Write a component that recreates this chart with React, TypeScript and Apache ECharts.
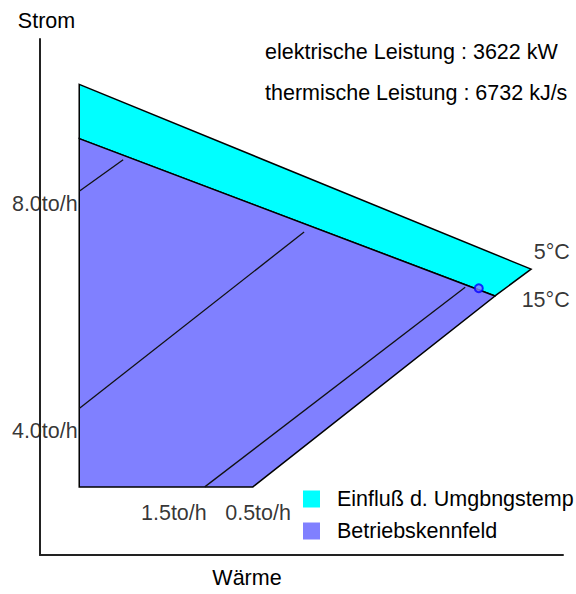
import React, { useEffect, useRef } from "react";
import * as echarts from "echarts";

// ---- data (relative units: Wärme 0..100, Strom 0..100) ----
const X_MAX = 100;
const Y_MAX = 100;

const ambientName = "Einfluß d. Umgbngstemp";
const fieldName = "Betriebskennfeld";

// polygon of ambient-temperature influence (5°C .. 15°C band)
const ambientPoly: number[][] = [
  [7.5, 91.2],
  [93.9, 55.4],
  [87.0, 50.2],
  [7.5, 80.7],
];

// operating field polygon
const fieldPoly: number[][] = [
  [7.5, 80.7],
  [87.0, 50.2],
  [40.7, 13.2],
  [7.5, 13.2],
];

// iso-lines of steam extraction
const isoLine1: number[][] = [
  [7.5, 70.5],
  [15.9, 76.6],
];
const isoLine2: number[][] = [
  [7.5, 28.4],
  [50.5, 62.6],
];
const isoLine3: number[][] = [
  [31.5, 13.2],
  [81.3, 51.9],
];

const operatingPoint: number[] = [83.9, 51.7];

// labels of the left iso-lines
const leftLabels = ["8.0to/h", "4.0to/h"];
const leftLabelPos: number[][] = [
  [7.3, 68.1],
  [7.3, 24.0],
];
// labels below the bottom edge
const bottomLabels = ["1.5to/h", "0.5to/h"];
const bottomLabelPos: number[][] = [
  [25.6, 8.1],
  [41.7, 8.1],
];
// temperature labels
const tempLabels = ["5°C", "15°C"];
const tempLabelPos: number[][] = [
  [94.3, 58.8],
  [92.0, 49.5],
];

const elektrischeLeistung = 3622;
const thermischeLeistung = 6732;

const FONT = "'Liberation Sans', Arial, sans-serif";
const FS = 21.5;

export default function App() {
  const ref = useRef<HTMLDivElement>(null);

  useEffect(() => {
    if (!ref.current) return;
    const chart = echarts.init(ref.current, null, { renderer: "svg" });

    const polySeries = (name: string, poly: number[][], color: string) => ({
      type: "custom",
      name,
      clip: false,
      silent: true,
      itemStyle: { color },
      data: [poly[0]],
      z: 2,
      renderItem: (_params: any, api: any) => ({
        type: "polygon",
        shape: { points: poly.map((p) => api.coord(p)) },
        style: { fill: color, stroke: "#000", lineWidth: 1.5 },
      }),
    });

    const lineSeries = (pts: number[][]) => ({
      type: "line",
      data: pts,
      symbol: "none",
      silent: true,
      z: 3,
      lineStyle: { color: "#111", width: 1.3 },
    });

    const labelSeries = (texts: string[], pos: number[][], position: string) => ({
      type: "scatter",
      silent: true,
      symbolSize: 1,
      z: 5,
      itemStyle: { color: "rgba(0,0,0,0)" },
      data: texts.map((t, i) => ({
        value: pos[i],
        label: {
          show: true,
          formatter: t,
          position,
          distance: 0,
          color: "#000",
          fontSize: FS,
          fontFamily: FONT,
        },
      })),
    });

    chart.setOption({
      animation: false,
      backgroundColor: "#fff",
      textStyle: { fontFamily: FONT },
      title: [
        {
          text: `elektrische Leistung : ${elektrischeLeistung} kW`,
          left: 265,
          top: 41,
          padding: 0,
          textStyle: { fontSize: FS, fontWeight: "normal", color: "#000", fontFamily: FONT },
        },
        {
          text: `thermische Leistung : ${thermischeLeistung} kJ/s`,
          left: 265,
          top: 82,
          padding: 0,
          textStyle: { fontSize: FS, fontWeight: "normal", color: "#000", fontFamily: FONT },
        },
      ],
      legend: {
        orient: "vertical",
        left: 303,
        top: 488,
        padding: 0,
        itemWidth: 17,
        itemHeight: 17,
        itemGap: 10,
        icon: "rect",
        selectedMode: false,
        data: [ambientName, fieldName],
        textStyle: {
          fontSize: FS,
          color: "#000",
          fontFamily: FONT,
          padding: [0, 0, 0, 12],
        },
      },
      grid: { left: 40, top: 39, right: 13, bottom: 33, containLabel: false },
      xAxis: {
        type: "value",
        min: 0,
        max: X_MAX,
        name: "Wärme",
        nameLocation: "middle",
        nameGap: 12,
        nameTextStyle: {
          fontSize: FS,
          color: "#000",
          fontFamily: FONT,
          verticalAlign: "top",
          padding: [0, 109, 0, 0],
        },
        axisLine: { show: true, lineStyle: { color: "#222", width: 2 } },
        axisTick: { show: false },
        axisLabel: { show: false },
        splitLine: { show: false },
      },
      yAxis: {
        type: "value",
        min: 0,
        max: Y_MAX,
        z: 10,
        name: "Strom",
        nameLocation: "end",
        nameGap: 7,
        nameTextStyle: {
          fontSize: FS,
          color: "#000",
          fontFamily: FONT,
          padding: [0, 0, 0, 13],
        },
        axisLine: { show: true, lineStyle: { color: "#222", width: 2 } },
        axisTick: { show: false },
        axisLabel: { show: false },
        splitLine: { show: false },
      },
      series: [
        polySeries(ambientName, ambientPoly, "#00FFFF"),
        polySeries(fieldName, fieldPoly, "#8080FF"),
        lineSeries(isoLine1),
        lineSeries(isoLine2),
        lineSeries(isoLine3),
        {
          type: "scatter",
          silent: true,
          z: 6,
          symbol: "circle",
          symbolSize: 8,
          itemStyle: { color: "#8080FF", borderColor: "#0000FF", borderWidth: 2 },
          data: [operatingPoint],
        },
        labelSeries(leftLabels, leftLabelPos, "left"),
        labelSeries(bottomLabels, bottomLabelPos, "inside"),
        labelSeries(tempLabels, tempLabelPos, "right"),
      ],
    });

    return () => chart.dispose();
  }, []);

  return (
    <div
      ref={ref}
      style={{ position: "fixed", left: 0, top: 0, width: 576, height: 594, background: "#fff" }}
    />
  );
}
